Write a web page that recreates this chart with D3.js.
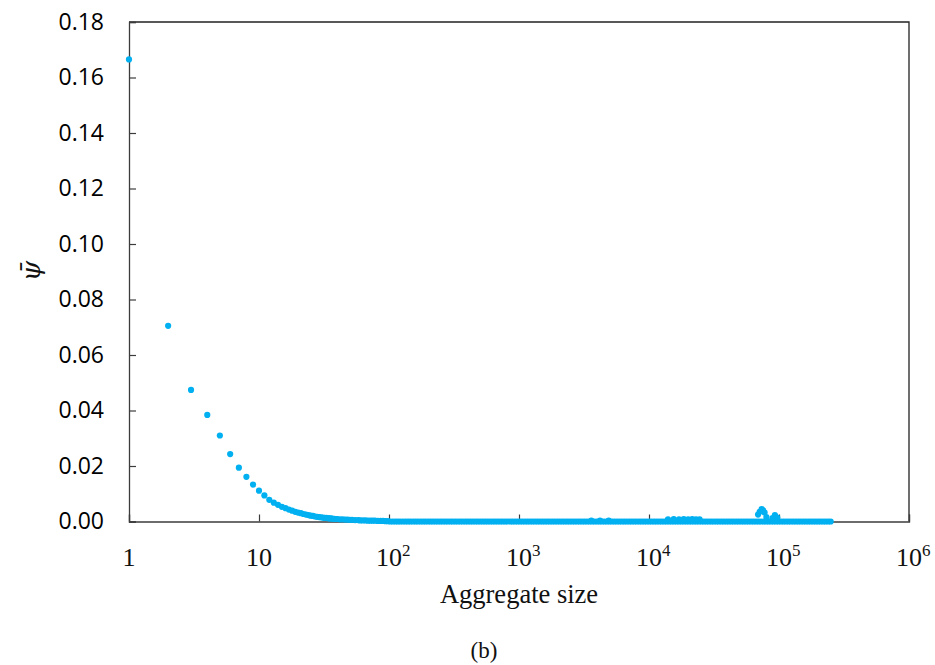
<!DOCTYPE html>
<html>
<head>
<meta charset="utf-8">
<script src="https://cdn.jsdelivr.net/npm/d3@7"></script>
<style>
  html, body { margin: 0; padding: 0; background: #fff; }
  svg { display: block; }
</style>
</head>
<body>
<svg id="chart" width="935" height="665"></svg>
<script>
// ---- data ----
// small aggregates: individual sizes with their mean psi
const decaySizes  = [1, 2, 3, 4, 5, 6, 7, 8, 9, 10, 11, 12, 13, 14, 15, 16, 17, 18, 19, 20,
                     21, 22, 23, 24, 25, 26, 27, 28, 29, 30, 31, 32, 33, 34, 35, 36, 37, 38, 39, 40,
                     42, 44, 46, 48, 50, 52, 55, 58];
const decayValues = [0.1665, 0.0705, 0.0474, 0.0384, 0.0310, 0.0243, 0.0194, 0.0161, 0.0133, 0.0111,
                     0.0094, 0.0078, 0.0068, 0.0060, 0.0053, 0.0048, 0.0043, 0.0039, 0.0035, 0.0032,
                     0.0030, 0.0027, 0.0025, 0.0023, 0.0021, 0.0020, 0.0018, 0.0017, 0.0016, 0.0015,
                     0.0014, 0.0013, 0.0013, 0.0012, 0.0011, 0.0011, 0.0010, 0.0010, 0.0009, 0.0009,
                     0.0008, 0.0008, 0.0007, 0.0007, 0.0006, 0.0006, 0.0005, 0.0005];
// tail approaching the floor
const tailSizes  = [60, 63, 66, 69, 72, 75, 78, 82, 86, 90, 94, 98];
const tailValues = [0.0004, 0.0004, 0.0004, 0.0003, 0.0003, 0.0003, 0.0003, 0.0002, 0.0002, 0.0002, 0.0001, 0.0001];
// large aggregates sitting on the floor (psi ~ 0)
const floorSizes = [102, 107, 112, 117, 122, 128, 134, 140, 146, 153, 160, 167, 175, 183, 191, 200, 209, 218,
  228, 238, 249, 260, 272, 284, 297, 310, 324, 339, 354, 370, 387, 404, 422, 441, 461, 482, 504, 527, 550,
  575, 601, 628, 656, 686, 717, 749, 783, 818, 855, 893, 933, 975, 1019, 1065, 1113, 1163, 1215, 1270, 1327,
  1387, 1449, 1514, 1582, 1653, 1728, 1806, 1887, 1972, 2061, 2153, 2250, 2351, 2457, 2568, 2683, 2804, 2930,
  3062, 3200, 3344, 3494, 3652, 3816, 3988, 4167, 4355, 4551, 4756, 4970, 5193, 5427, 5671, 5926, 6193, 6472,
  6763, 7067, 7385, 7718, 8065, 8428, 8807, 9203, 9618, 10050, 10503, 10975, 11469, 11985, 12525, 13088, 13677,
  14293, 14936, 15608, 16311, 17045, 17812, 18613, 19451, 20326, 21241, 22197, 23196, 24240, 25330, 26470,
  27661, 28906, 30207, 31566, 32987, 34471, 36022, 37643, 39337, 41107, 42957, 44890, 46910, 49021, 51227,
  53532, 55941, 58458, 61089, 63838, 66710, 69712, 72849, 76128, 79553, 83133, 86874, 90784, 94869, 99138,
  103599, 108261, 113133, 118224, 123544, 129104, 134913, 140984, 147329, 153958, 160887, 168127, 175692,
  183598, 191860, 200494, 209516, 218944, 228797, 239093, 249852];
const floorValue = 0;
// scattered large aggregates standing slightly above the floor
const bumpSizes  = [3600, 4200, 4900, 14000, 15500, 17000, 18500, 20000, 21500, 23000, 24500,
                    69000, 71000, 73500, 75500, 77500, 80000, 89000, 93000, 97000];
const bumpValues = [0.0003, 0.0003, 0.0003, 0.0008, 0.0009, 0.0008, 0.0009, 0.0008, 0.0009, 0.0008, 0.0008,
                    0.0025, 0.0035, 0.0045, 0.0040, 0.0032, 0.0016, 0.0012, 0.0023, 0.0014];

const xTickExps = [0, 1, 2, 3, 4, 5, 6];
const yTicks = [0, 0.02, 0.04, 0.06, 0.08, 0.10, 0.12, 0.14, 0.16, 0.18];
const xTitle = "Aggregate size";
const caption = "(b)";

// ---- layout ----
const svg = d3.select("#chart");
const L = 129, R = 909, T = 22, B = 521.5;
const x = d3.scaleLog().domain([1, 1e6]).range([L, R]);
const y = d3.scaleLinear().domain([0, 0.18]).range([B, T]);
const axisColor = "#3c3c3c";

// frame (top & right)
svg.append("path")
  .attr("d", `M${L},${T}H${R}V${B}`)
  .attr("fill", "none").attr("stroke", "#222").attr("stroke-width", 1.3);

// y axis
const yAxis = d3.axisLeft(y).tickValues(yTicks).tickSize(-7).tickPadding(25)
  .tickFormat(d3.format(".2f"));
const gy = svg.append("g").attr("transform", `translate(${L},0)`).call(yAxis);
gy.select(".domain").attr("stroke", axisColor).attr("stroke-width", 1.3);
gy.selectAll(".tick line").attr("stroke", axisColor).attr("stroke-width", 1.2);
gy.selectAll(".tick text")
  .attr("font-family", "'Open Sans', sans-serif").attr("font-size", 23)
  .attr("fill", "#000").attr("x", -25);

// x axis
const xAxis = d3.axisBottom(x).tickValues(xTickExps.map(e => Math.pow(10, e)))
  .tickSize(-7).tickFormat("");
const gx = svg.append("g").attr("transform", `translate(0,${B})`).call(xAxis);
gx.select(".domain").attr("stroke", axisColor).attr("stroke-width", 1.3);
gx.selectAll(".tick line").attr("stroke", axisColor).attr("stroke-width", 1.2);

// x tick labels: 1, 10, 10^2 ... 10^6 (base "10" centred on the tick)
const xl = svg.append("g").attr("font-family", "'Liberation Serif', 'Times New Roman', serif")
  .attr("fill", "#111");
xTickExps.forEach(e => {
  const cx = x(Math.pow(10, e));
  if (e === 0) {
    xl.append("text").attr("x", cx).attr("y", 566).attr("text-anchor", "middle")
      .attr("font-size", 26).text("1");
  } else if (e === 1) {
    xl.append("text").attr("x", cx).attr("y", 566).attr("text-anchor", "middle")
      .attr("font-size", 26).text("10");
  } else {
    const t = xl.append("text").attr("x", cx - 13).attr("y", 566).attr("font-size", 26);
    t.append("tspan").text("10");
    t.append("tspan").attr("dy", -10).attr("font-size", 17).text(String(e));
  }
});

// points
const pts = [];
decaySizes.forEach((s, i) => pts.push([s, decayValues[i]]));
tailSizes.forEach((s, i) => pts.push([s, tailValues[i]]));
floorSizes.forEach(s => pts.push([s, floorValue]));
bumpSizes.forEach((s, i) => pts.push([s, bumpValues[i]]));
svg.append("g").selectAll("circle").data(pts).join("circle")
  .attr("cx", d => x(d[0])).attr("cy", d => y(d[1])).attr("r", 3.1)
  .attr("fill", "#00b0f0");

// axis titles
svg.append("text").attr("x", 519).attr("y", 603).attr("text-anchor", "middle")
  .attr("font-family", "'Liberation Serif', 'Times New Roman', serif").attr("font-size", 26.5)
  .attr("fill", "#111").text(xTitle);

const yl = svg.append("text")
  .attr("transform", "translate(40,271) rotate(-90)")
  .attr("text-anchor", "middle")
  .attr("font-family", "'DejaVu Serif', serif").attr("font-style", "italic")
  .attr("font-size", 26).attr("fill", "#111");
yl.text("\u03C8\u0304");

svg.append("text").attr("x", 484).attr("y", 658).attr("text-anchor", "middle")
  .attr("font-family", "'Liberation Serif', 'Times New Roman', serif").attr("font-size", 23)
  .attr("fill", "#111").text(caption);
</script>
</body>
</html>
